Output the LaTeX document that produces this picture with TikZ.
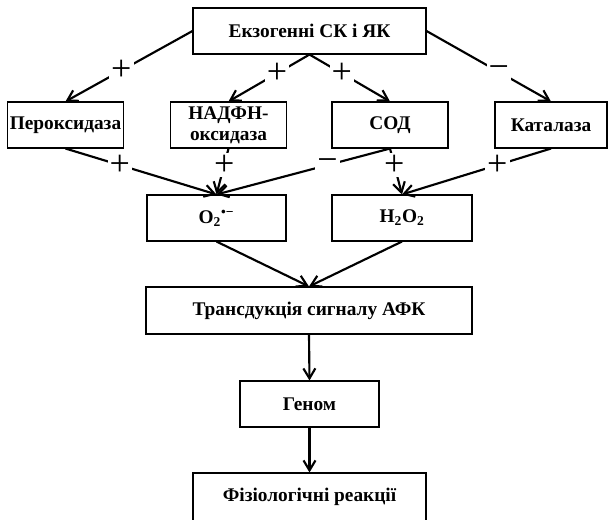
\documentclass[tikz,border=0pt]{standalone}
\usepackage{fontspec}
\setmainfont{Liberation Serif}
\usetikzlibrary{arrows.meta}
\begin{document}
\begin{tikzpicture}[x=0.75pt,y=-0.75pt, every node/.style={font=\bfseries\fontsize{14.5}{16}\selectfont},
  box/.style={draw,line width=0.8pt,minimum height=34.5pt,align=center,inner sep=1pt},
  link/.style={-{Straight Barb[length=7.5pt,width=9pt]},line width=1.6pt},
  sign/.style={fill=white,inner sep=1.5pt,font=\fontsize{27}{27}\selectfont}]
\useasboundingbox (0,0) rectangle (608,519);
\node[box,minimum width=174.75pt] (exo) at (309.5,31) {Екзогенні СК і ЯК};
\node[box,minimum width=87pt] (perox) at (65.5,125) {Пероксидаза};
\node[box,minimum width=87pt] (nadph) at (228.5,125) {НАДФН-\\оксидаза};
\node[box,minimum width=87pt] (sod) at (390,125) {СОД};
\node[box,minimum width=84pt] (cat) at (551,125) {Каталаза};
\node[box,minimum width=104.25pt] (o2) at (216.5,218) {O\textsubscript{2}\textsuperscript{•−}};
\node[box,minimum width=105pt] (h2o2) at (402,218) {H\textsubscript{2}O\textsubscript{2}};
\node[box,minimum width=244.5pt,minimum height=35.25pt] (trans) at (309,310.5) {Трансдукція сигналу АФК};
\node[box,minimum width=104.25pt] (genome) at (309.5,404) {Геном};
\node[box,minimum width=174.75pt,minimum height=36pt] (phys) at (309.5,497) {Фізіологічні реакції};
\draw[link] (exo.west) -- (perox.north) node[sign,pos=0.56] {+};
\draw[link] (exo.south) -- (nadph.north) node[sign,pos=0.4] {+};
\draw[link] (exo.south) -- (sod.north) node[sign,pos=0.4] {+};
\draw[link] (exo.east) -- (cat.north) node[sign,pos=0.58] {−};
\draw[link] (perox.south) -- (o2.north) node[sign,pos=0.36] {+};
\draw[link] (nadph.south) -- (o2.north) node[sign,pos=0.36] {+};
\draw[link] (sod.south) -- (o2.north) node[sign,pos=0.36] {−};
\draw[link] (sod.south) -- (h2o2.north) node[sign,pos=0.36] {+};
\draw[link] (cat.south) -- (h2o2.north) node[sign,pos=0.36] {+};
\draw[link] (o2.south) -- (trans.north);
\draw[link] (h2o2.south) -- (trans.north);
\draw[link] (trans.south) -- (genome.north);
\draw[link] (genome.south) -- (phys.north);
\end{tikzpicture}
\end{document}
